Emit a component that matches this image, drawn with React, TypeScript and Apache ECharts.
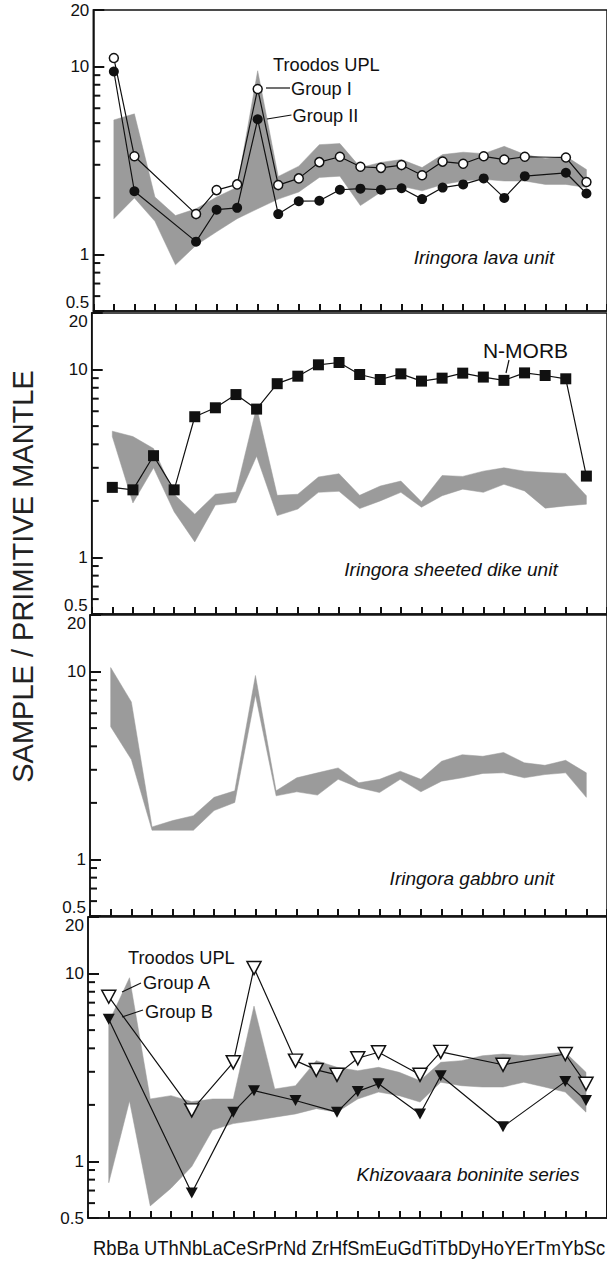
import React, { useEffect, useRef } from 'react';
import * as echarts from 'echarts';

// ---- categories ----
const elements = ['Rb', 'Ba', 'U', 'Th', 'Nb', 'La', 'Ce', 'Sr', 'Pr', 'Nd', 'Zr', 'Hf', 'Sm', 'Eu', 'Gd', 'Ti', 'Tb', 'Dy', 'Ho', 'Y', 'Er', 'Tm', 'Yb', 'Sc'];

const N = null;

// ---- panel 1: Iringora lava unit ----
const lavaGroupI = [11.1, 3.33, N, N, 1.64, 2.2, 2.36, 7.6, 2.34, 2.54, 3.1, 3.31, 2.93, 2.89, 2.99, 2.64, 3.12, 3.04, 3.33, 3.2, 3.31, N, 3.28, 2.43];
const lavaGroupII = [9.41, 2.17, N, N, 1.17, 1.73, 1.77, 5.24, 1.64, 1.92, 1.93, 2.21, 2.24, 2.21, 2.25, 1.97, 2.27, 2.36, 2.54, 2.0, 2.61, N, 2.72, 2.11];
const lavaBandUpper = [5.2, 5.6, 2.02, 1.61, 1.75, 2.02, 2.28, 9.5, 2.6, 2.95, 3.84, 3.89, 2.9, 3.09, 3.2, 2.9, 3.4, 3.5, 3.44, 3.76, 3.4, 3.24, 3.33, 2.83];
const lavaBandLower = [1.55, 2.0, 1.5, 0.88, 1.12, 1.32, 1.55, 1.75, 1.97, 2.15, 2.57, 2.61, 1.82, 2.15, 2.31, 2.18, 2.36, 2.46, 2.51, 2.46, 2.46, 2.36, 2.36, 2.27];

// ---- panel 2: Iringora sheeted dike unit ----
const nMorb = [2.36, 2.29, 3.48, 2.29, 5.61, 6.26, 7.36, 6.16, 8.41, 9.22, 10.6, 10.9, 9.41, 8.85, 9.49, 8.68, 9.0, 9.57, 9.12, 8.76, 9.6, 9.3, 8.93, 2.71];
const dikeBandUpper = [4.7, 4.4, 3.8, 2.17, 1.7, 2.17, 2.23, 6.33, 2.14, 2.17, 2.68, 2.79, 2.14, 2.4, 2.55, 1.98, 2.73, 2.7, 2.88, 3.0, 2.88, 2.83, 2.8, 2.13];
const dikeBandLower = [4.4, 1.95, 3.0, 1.75, 1.21, 1.9, 1.96, 3.46, 1.67, 1.81, 2.22, 2.25, 1.82, 2.0, 2.22, 1.85, 2.13, 2.31, 2.22, 2.45, 2.26, 1.83, 1.88, 1.92];

// ---- panel 3: Iringora gabbro unit ----
const gabbroBandUpper = [10.5, 6.89, 1.49, 1.61, 1.71, 2.14, 2.32, 9.53, 2.32, 2.72, 2.89, 3.07, 2.56, 2.67, 2.95, 2.67, 3.33, 3.61, 3.54, 3.71, 3.27, 3.17, 3.37, 2.89];
const gabbroBandLower = [5.09, 3.4, 1.43, 1.43, 1.43, 1.82, 2.01, 7.5, 2.18, 2.29, 2.2, 2.67, 2.41, 2.27, 2.67, 2.29, 2.61, 2.72, 2.87, 2.89, 2.72, 2.83, 2.89, 2.14];

// ---- panel 4: Khizovaara boninite series ----
const boniniteGroupA = [7.53, N, N, N, 1.87, N, 3.37, 10.7, N, 3.44, 3.07, 2.89, 3.54, 3.81, N, 2.89, 3.83, N, N, 3.27, N, N, 3.73, 2.59];
const boniniteGroupB = [5.71, N, N, N, 0.68, N, 1.83, 2.38, N, 2.11, N, 1.83, 2.36, 2.59, N, 1.79, 2.86, N, N, 1.53, N, N, 2.66, 2.11];
const boniniteBandUpper = [5.5, 9.5, 2.15, 2.24, 2.08, 2.15, 2.15, 6.71, 2.43, 2.53, 3.44, 3.17, 3.04, 3.17, 2.98, 2.69, 3.37, 3.44, 3.65, 3.73, 3.65, 3.73, 3.81, 2.98];
const boniniteBandLower = [0.77, 2.1, 0.58, 0.72, 0.94, 1.47, 1.59, 1.65, 1.72, 1.79, 1.91, 1.83, 2.15, 2.34, 2.24, 2.07, 2.64, 2.53, 2.49, 2.49, 2.64, 2.49, 2.34, 1.83];

// ---- axis ----
const yMin = 0.5;
const yMax = 20;
const yMinorTicks = [0.6, 0.7, 0.8, 0.9, 2, 3, 4, 5, 6, 7, 8, 9];
const yAxisTitle = 'SAMPLE / PRIMITIVE MANTLE';
const panelNames = ['Iringora lava unit', 'Iringora sheeted dike unit', 'Iringora gabbro unit', 'Khizovaara boninite series'];

// ---- layout ----
const gridLefts = [93.3, 91.7, 90, 88];
const gridTops = [10, 313, 615, 917];
const gridHeight = 301;
const step = 20.75;
const gridWidth = step * (elements.length + 1);
const FONT = '"Liberation Sans", Arial, Helvetica, sans-serif';
const BAND = '#9b9b9b';
const INK = '#111';
const TICK_W = 2;

function pairs(vals: (number | null)[]) {
  const out: [number, number][] = [];
  vals.forEach((v, i) => {
    if (v != null) out.push([i + 1, v]);
  });
  return out;
}

// shaded range band + minor log ticks, placed through the axes' scales
function bandSeries(idx: number, upper: number[], lower: number[]) {
  return {
    type: 'custom',
    xAxisIndex: idx,
    yAxisIndex: idx,
    clip: false,
    data: [[1, 1]],
    renderItem: (params: any, api: any) => {
      if (params.dataIndex !== 0) return null;
      const pts: number[][] = [];
      upper.forEach((v, i) => pts.push(api.coord([i + 1, v])));
      for (let i = lower.length - 1; i >= 0; i--) pts.push(api.coord([i + 1, lower[i]]));
      const children: any[] = [
        { type: 'polygon', shape: { points: pts }, style: { fill: BAND, stroke: BAND, lineWidth: 0.5 } },
      ];
      yMinorTicks.forEach((v) => {
        const p = api.coord([0, v]);
        children.push({ type: 'rect', shape: { x: p[0], y: p[1] - TICK_W / 2, width: 7, height: TICK_W }, style: { fill: INK } });
      });
      return { type: 'group', children };
    },
  };
}

function lineSeries(idx: number, vals: (number | null)[], symbol: string, size: any, filled: boolean, rotate = 0) {
  return {
    type: 'line',
    xAxisIndex: idx,
    yAxisIndex: idx,
    data: pairs(vals),
    symbol,
    symbolSize: size,
    symbolRotate: rotate,
    showAllSymbol: true,
    z: 3,
    lineStyle: { color: INK, width: 1.2 },
    itemStyle: {
      color: filled ? INK : '#fff',
      borderColor: INK,
      borderWidth: filled ? 0 : 1.5,
    },
  };
}

function annot(text: string, x: number, y: number, size: number, opts: any = {}) {
  return {
    type: 'text',
    x,
    y,
    scaleX: opts.scaleX ?? 1,
    z: 10,
    style: {
      text,
      fill: INK,
      font: `${opts.italic ? 'italic ' : ''}${size}px ${FONT}`,
      textAlign: opts.align ?? 'left',
      textVerticalAlign: 'middle',
    },
  };
}

function leader(x1: number, y1: number, x2: number, y2: number) {
  return { type: 'line', z: 10, shape: { x1, y1, x2, y2 }, style: { stroke: INK, lineWidth: 1.2 } };
}

export default function App() {
  const ref = useRef<HTMLDivElement>(null);
  useEffect(() => {
    const chart = echarts.init(ref.current!, null, { renderer: 'svg' });
    const cats = ['', ...elements, ''];
    const grids = gridTops.map((t, i) => ({
      left: gridLefts[i],
      top: t,
      width: gridWidth,
      height: gridHeight,
      show: true,
      borderColor: INK,
      borderWidth: 1.5,
    }));
    const xAxes = grids.map((_, i) => ({
      type: 'category',
      gridIndex: i,
      data: cats,
      boundaryGap: false,
      axisLine: { show: true, lineStyle: { color: INK, width: 1.5 } },
      axisTick: { show: true, inside: true, length: 7, interval: 0, lineStyle: { color: INK, width: TICK_W } },
      axisLabel: { show: false },
      splitLine: { show: false },
    }));
    const yAxes = grids.map((_, i) => ({
      type: 'log',
      gridIndex: i,
      min: yMin,
      max: yMax,
      axisLine: { show: true, lineStyle: { color: INK, width: 1.5 } },
      axisTick: { show: true, inside: true, length: 11, lineStyle: { color: INK, width: TICK_W } },
      splitLine: { show: false },
      axisLabel: {
        show: true,
        color: INK,
        fontSize: 17,
        fontFamily: FONT,
        margin: 4,
        formatter: (v: number) => String(+Number(v).toPrecision(3)),
        verticalAlignMinLabel: i === 3 ? 'middle' : 'bottom',
        verticalAlignMaxLabel: i === 0 ? 'middle' : 'top',
      },
    }));

    const xLabelText = elements.slice(0, 2).join('') + ' ' + elements.slice(2, 10).join('') + ' ' + elements.slice(10).join('');

    const series: any[] = [
      bandSeries(0, lavaBandUpper, lavaBandLower),
      bandSeries(1, dikeBandUpper, dikeBandLower),
      bandSeries(2, gabbroBandUpper, gabbroBandLower),
      bandSeries(3, boniniteBandUpper, boniniteBandLower),
      lineSeries(0, lavaGroupII, 'circle', 10, true),
      lineSeries(0, lavaGroupI, 'circle', 9, false),
      lineSeries(1, nMorb, 'rect', 11, true),
      lineSeries(3, boniniteGroupB, 'triangle', [12, 11], true, 180),
      lineSeries(3, boniniteGroupA, 'triangle', [14, 13], false, 180),
    ];

    chart.setOption({
      animation: false,
      textStyle: { fontFamily: FONT },
      grid: grids,
      xAxis: xAxes,
      yAxis: yAxes,
      series,
      graphic: [
        {
          type: 'text',
          x: 22.5,
          y: 576.5,
          rotation: Math.PI / 2,
          style: {
            text: yAxisTitle,
            fill: '#222',
            font: `29px ${FONT}`,
            textAlign: 'center',
            textVerticalAlign: 'middle',
          },
        },
        annot(xLabelText, 349, 1248, 20, { align: 'center', scaleX: 0.92 }),
        annot(panelNames[0], 484, 257, 19, { italic: true, align: 'center' }),
        annot(panelNames[1], 451, 569, 19, { italic: true, align: 'center' }),
        annot(panelNames[2], 472, 878, 19, { italic: true, align: 'center' }),
        annot(panelNames[3], 468, 1174, 19, { italic: true, align: 'center' }),
        annot('Troodos UPL', 273, 64, 19, { scaleX: 0.96 }),
        annot('Group I', 291, 88.5, 19, { scaleX: 0.96 }),
        annot('Group II', 292.5, 115, 19, { scaleX: 0.96 }),
        leader(266, 88, 290, 88),
        leader(267, 119, 291.5, 115),
        annot('N-MORB', 525.5, 350, 21, { align: 'center' }),
        leader(509, 360, 506, 373),
        annot('Troodos UPL', 128, 957.5, 19, { scaleX: 0.96 }),
        annot('Group A', 143, 982.5, 19, { scaleX: 0.96 }),
        annot('Group B', 145, 1011, 19, { scaleX: 0.96 }),
        leader(122, 992, 141, 983),
        leader(122, 1017, 143, 1010),
      ],
    });
    return () => chart.dispose();
  }, []);
  return <div ref={ref} style={{ position: 'fixed', left: 0, top: 0, width: 607, height: 1262, background: '#fff' }} />;
}
